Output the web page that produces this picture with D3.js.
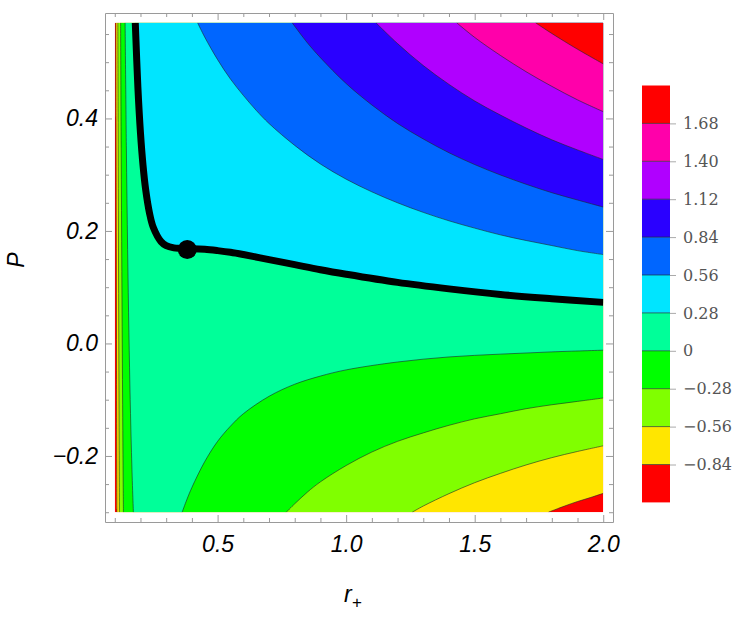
<!DOCTYPE html>
<html>
<head>
<meta charset="utf-8">
<script src="https://cdn.jsdelivr.net/npm/d3@7"></script>
<style>
  body { margin: 0; background: #fff; }
  svg { display: block; }
  .frame-axis path, .frame-axis line { stroke: #9a9a9a; }
  .frame-axis text { font-family: "Liberation Sans", Arial, sans-serif; font-style: italic; font-size: 23px; fill: #000; }
  .bar-axis line { stroke: #aaa; }
  .bar-axis text { font-family: "DejaVu Serif", serif; font-size: 16px; fill: #555; }
  .axis-title { font-family: "Liberation Sans", Arial, sans-serif; font-style: italic; font-size: 23px; fill: #000; }
</style>
</head>
<body>
<svg id="chart" width="750" height="625"></svg>
<script>
// contour levels and the fill of each band (lowest band first)
const LEVELS = [-0.84, -0.56, -0.28, 0, 0.28, 0.56, 0.84, 1.12, 1.40, 1.68];
const BAND_COLORS = ['#FF0000', '#FFE600', '#80FF00', '#00FF00', '#00FF99', '#00E5FF',
  '#0066FF', '#2A00FF', '#B000FF', '#FF00AA', '#FF0000'];

// contour lines, points [r+, P]; a level may come in two pieces
const contourM084 = [
  [[0.1043, 0.57], [0.105, 0.399], [0.106, 0.169], [0.107, -0.048], [0.1083, -0.30]],
  [[1.787, -0.30], [1.85, -0.289], [1.9, -0.281], [1.95, -0.274], [2.0, -0.2665]]
];
const contourM056 = [
  [[0.1119, 0.57], [0.113, 0.393], [0.114, 0.237], [0.115, 0.089], [0.116, -0.051], [0.117, -0.182], [0.1179, -0.30]],
  [[1.257, -0.30], [1.3, -0.289], [1.4, -0.267], [1.5, -0.2475], [1.6, -0.231], [1.7, -0.216], [1.8, -0.203], [1.9, -0.192], [2.0, -0.182]]
];
const contourM028 = [
  [[0.1227, 0.57], [0.125, 0.346], [0.1275, 0.128], [0.13, -0.064], [0.1325, -0.234], [0.1336, -0.30]],
  [[0.767, -0.30], [0.8, -0.285], [0.85, -0.264], [0.9, -0.246], [1.0, -0.217], [1.1, -0.193], [1.2, -0.174],
   [1.3, -0.159], [1.4, -0.1455], [1.5, -0.134], [1.6, -0.125], [1.7, -0.116], [1.8, -0.109], [1.9, -0.103], [2.0, -0.097]]
];
const contour0 = [
  [[0.1402, 0.57], [0.145, 0.352], [0.15, 0.167], [0.155, 0.019], [0.16, -0.100], [0.165, -0.194], [0.17, -0.269], [0.1725, -0.30]],
  [[0.362, -0.30], [0.38, -0.278], [0.40, -0.256], [0.45, -0.210], [0.5, -0.174], [0.55, -0.147], [0.6, -0.125], [0.7, -0.094],
   [0.8, -0.0725], [0.9, -0.058], [1.0, -0.047], [1.2, -0.033], [1.4, -0.024], [1.6, -0.019], [1.8, -0.015], [2.0, -0.012]]
];
const contour028 = [
  [[0.1798, 0.57], [0.19, 0.4545], [0.20, 0.374], [0.21, 0.316], [0.22, 0.274], [0.235, 0.232], [0.25, 0.206], [0.28, 0.181],
   [0.30, 0.174], [0.33, 0.170], [0.35, 0.169], [0.38, 0.1686], [0.40, 0.1685], [0.45, 0.1674], [0.50, 0.165], [0.55, 0.162],
   [0.60, 0.158], [0.70, 0.149], [0.80, 0.140], [0.90, 0.131], [1.0, 0.123], [1.2, 0.1085], [1.4, 0.097], [1.6, 0.087],
   [1.8, 0.0795], [2.0, 0.073]]
];
const contour056 = [
  [[0.4222, 0.57], [0.45, 0.5445], [0.5, 0.5045], [0.55, 0.470], [0.6, 0.441], [0.65, 0.4145], [0.7, 0.391], [0.8, 0.352],
   [0.9, 0.319], [1.0, 0.292], [1.1, 0.2695], [1.2, 0.250], [1.3, 0.233], [1.4, 0.218], [1.5, 0.205], [1.6, 0.193],
   [1.7, 0.183], [1.8, 0.174], [1.9, 0.165], [2.0, 0.158]]
];
const contour084 = [
  [[0.79, 0.57], [0.85, 0.534], [0.9, 0.508], [1.0, 0.462], [1.1, 0.424], [1.2, 0.391], [1.3, 0.3635], [1.4, 0.339],
   [1.5, 0.318], [1.6, 0.2995], [1.7, 0.283], [1.8, 0.268], [1.9, 0.255], [2.0, 0.2425]]
];
const contour112 = [
  [[1.116, 0.57], [1.2, 0.533], [1.3, 0.494], [1.4, 0.4605], [1.5, 0.431], [1.6, 0.406], [1.7, 0.383], [1.8, 0.362],
   [1.9, 0.344], [2.0, 0.327]]
];
const contour140 = [
  [[1.43, 0.57], [1.5, 0.544], [1.6, 0.512], [1.7, 0.483], [1.8, 0.457], [1.9, 0.433], [2.0, 0.412]]
];
const contour168 = [
  [[1.737, 0.57], [1.8, 0.551], [1.9, 0.523], [2.0, 0.497]]
];
const CONTOURS = [contourM084, contourM056, contourM028, contour0, contour028,
  contour056, contour084, contour112, contour140, contour168];

// critical point on the thick curve
const criticalPoint = [0.382, 0.167];

const R_RANGE = [0.1, 2.0];
const P_RANGE = [-0.3, 0.57];
const X_MAJOR = [0.5, 1.0, 1.5, 2.0];
const X_MINOR = [0.1, 0.2, 0.3, 0.4, 0.6, 0.7, 0.8, 0.9, 1.1, 1.2, 1.3, 1.4, 1.6, 1.7, 1.8, 1.9];
const Y_MAJOR = [-0.2, 0.0, 0.2, 0.4];
const Y_MINOR = [-0.3, -0.25, -0.15, -0.1, -0.05, 0.05, 0.1, 0.15, 0.25, 0.3, 0.35, 0.45, 0.5, 0.55];

const svg = d3.select('#chart');

const x = d3.scaleLinear().domain([0.062, 2.038]).range([105, 613]);
const y = d3.scaleLinear().domain([-0.3174, 0.5874]).range([522, 13]);

const line = d3.line()
  .x(d => x(d[0]))
  .y(d => y(d[1]))
  .curve(d3.curveCatmullRom);

// region above a level: its pieces joined along the bottom edge, closed over the top-right corner
function regionPath(pieces) {
  let d = pieces.map(p => line(p)).join('').replace(/M/g, 'L').replace(/^L/, 'M');
  d += `L${x(R_RANGE[1])},${y(P_RANGE[1])}L${x(pieces[0][0][0])},${y(P_RANGE[1])}Z`;
  return d;
}

svg.append('clipPath').attr('id', 'plot-clip')
  .append('rect')
  .attr('x', x(R_RANGE[0])).attr('y', y(P_RANGE[1]))
  .attr('width', x(R_RANGE[1]) - x(R_RANGE[0]))
  .attr('height', y(P_RANGE[0]) - y(P_RANGE[1]));

const plot = svg.append('g').attr('clip-path', 'url(#plot-clip)');

plot.append('rect')
  .attr('x', x(R_RANGE[0])).attr('y', y(P_RANGE[1]))
  .attr('width', x(R_RANGE[1]) - x(R_RANGE[0]))
  .attr('height', y(P_RANGE[0]) - y(P_RANGE[1]))
  .attr('fill', BAND_COLORS[0]);

plot.selectAll('path.band')
  .data(CONTOURS)
  .enter()
  .append('path')
  .attr('class', 'band')
  .attr('d', regionPath)
  .attr('fill', (d, i) => BAND_COLORS[i + 1]);

plot.selectAll('path.contour')
  .data(CONTOURS.flat())
  .enter()
  .append('path')
  .attr('class', 'contour')
  .attr('d', line)
  .attr('fill', 'none')
  .attr('stroke', 'rgba(30,40,40,0.6)')
  .attr('stroke-width', 1);

// thick curve follows the 0.28 level
plot.append('path')
  .attr('d', line(contour028[0]))
  .attr('fill', 'none')
  .attr('stroke', '#000')
  .attr('stroke-width', 7);

plot.append('circle')
  .attr('cx', x(criticalPoint[0]))
  .attr('cy', y(criticalPoint[1]))
  .attr('r', 9.5)
  .attr('fill', '#000');

// frame with inward ticks on all four sides
function addAxis(axisFn, scale, transform, majors, minors, labels) {
  const g = svg.append('g').attr('class', 'frame-axis').attr('transform', transform);
  g.call(axisFn(scale).tickValues(minors).tickSize(-4).tickSizeOuter(0).tickFormat(''));
  const gm = svg.append('g').attr('class', 'frame-axis').attr('transform', transform);
  gm.call(axisFn(scale).tickValues(majors).tickSize(-7).tickSizeOuter(0).tickPadding(labels ? 14 : 0)
    .tickFormat(labels ? d3.format('.1f') : ''));
  gm.select('.domain').remove();
  return gm;
}

addAxis(d3.axisBottom, x, 'translate(0,522)', X_MAJOR, X_MINOR, true);
addAxis(d3.axisTop, x, 'translate(0,13)', X_MAJOR, X_MINOR, false);
const yAxis = addAxis(d3.axisLeft, y, 'translate(105,0)', Y_MAJOR, Y_MINOR, true);
addAxis(d3.axisRight, y, 'translate(613,0)', Y_MAJOR, Y_MINOR, false);
yAxis.selectAll('text').attr('x', -7);

svg.append('text')
  .attr('class', 'axis-title')
  .attr('transform', 'translate(24,260) rotate(-90)')
  .attr('text-anchor', 'middle')
  .text('P');

const rLabel = svg.append('text')
  .attr('class', 'axis-title')
  .attr('x', 344)
  .attr('y', 602);
rLabel.append('tspan').text('r');
rLabel.append('tspan').attr('dy', 6).attr('font-size', 17).text('+');

// colour bar legend
const cb = d3.scaleLinear().domain([-1.12, 1.96]).range([502.4, 85.5]);
const edges = [-1.12, ...LEVELS, 1.96];
const bar = svg.append('g');

bar.selectAll('rect')
  .data(BAND_COLORS)
  .enter()
  .append('rect')
  .attr('x', 642)
  .attr('width', 28)
  .attr('y', (d, i) => cb(edges[i + 1]))
  .attr('height', (d, i) => cb(edges[i]) - cb(edges[i + 1]))
  .attr('fill', d => d);

bar.selectAll('line.sep')
  .data(LEVELS)
  .enter()
  .append('line')
  .attr('class', 'sep')
  .attr('x1', 642).attr('x2', 670)
  .attr('y1', d => cb(d)).attr('y2', d => cb(d))
  .attr('stroke', 'rgba(30,40,40,0.65)')
  .attr('stroke-width', 1);

const barAxis = svg.append('g')
  .attr('class', 'bar-axis')
  .attr('transform', 'translate(670,0)')
  .call(d3.axisRight(cb).tickValues(LEVELS).tickSize(6).tickPadding(7)
    .tickFormat(v => v === 0 ? '0' : d3.format('.2f')(v)));
barAxis.select('.domain').remove();
</script>
</body>
</html>
